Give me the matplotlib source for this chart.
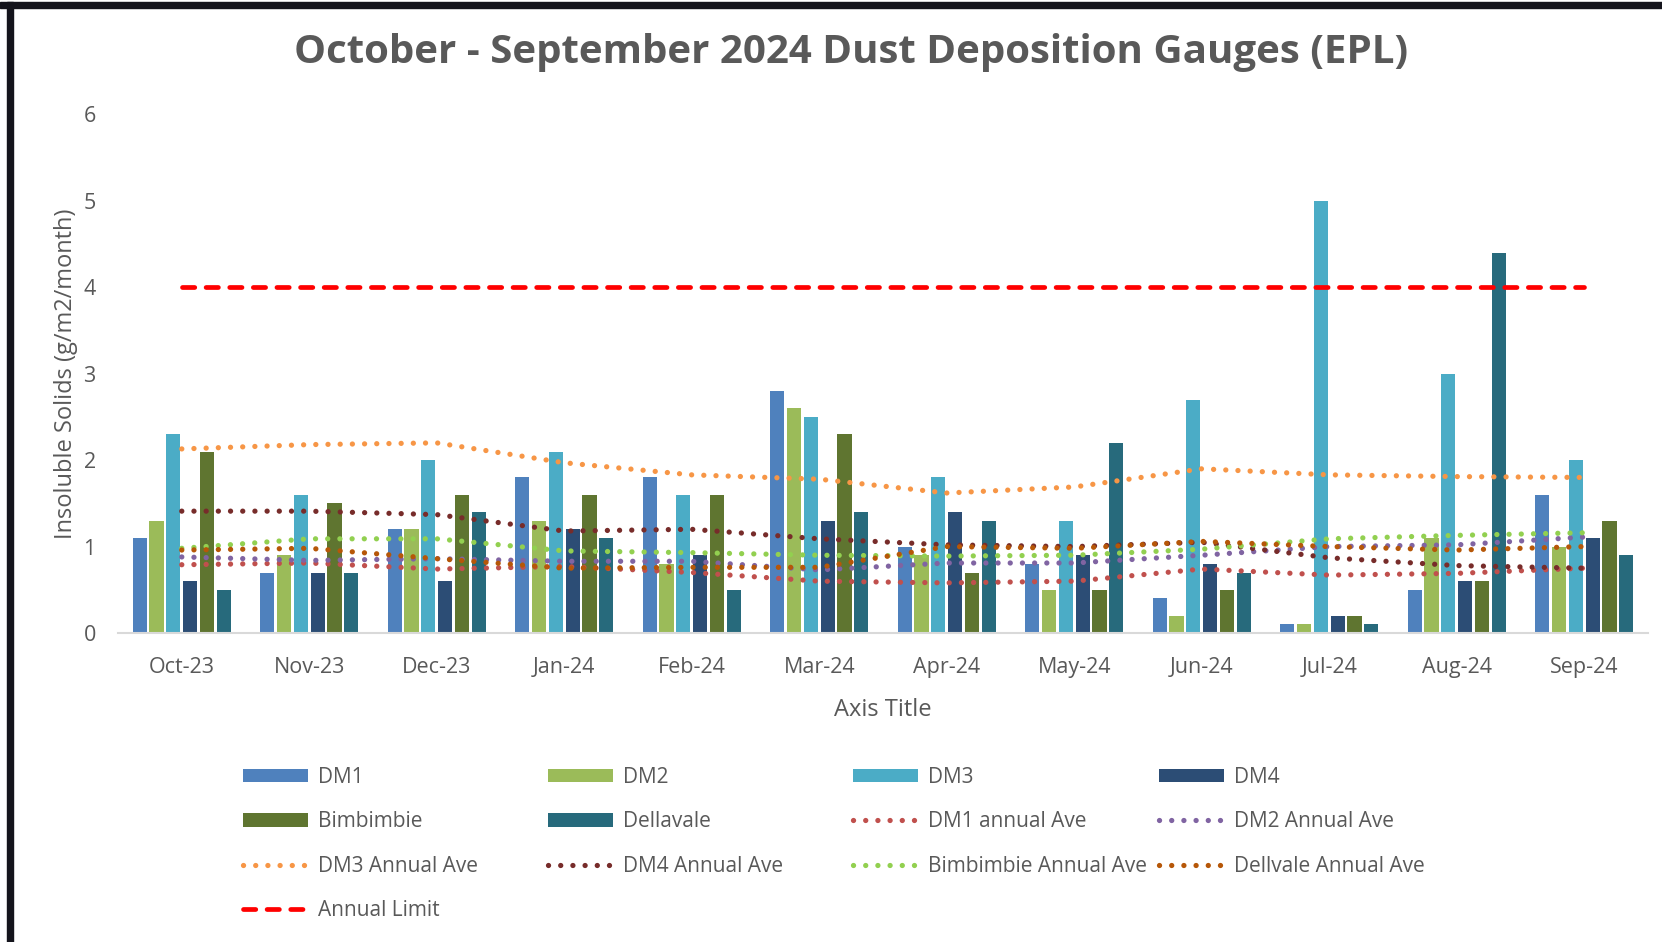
import numpy as np
import matplotlib
matplotlib.use("Agg")
import matplotlib.pyplot as plt
from matplotlib.patches import Patch, Rectangle

plt.rcParams['font.family'] = ['Open Sans', 'DejaVu Sans']

# ---------------- data ----------------
months = ['Oct-23', 'Nov-23', 'Dec-23', 'Jan-24', 'Feb-24', 'Mar-24',
          'Apr-24', 'May-24', 'Jun-24', 'Jul-24', 'Aug-24', 'Sep-24']

dm1 = [1.1, 0.7, 1.2, 1.8, 1.8, 2.8, 1.0, 0.8, 0.4, 0.1, 0.5, 1.6]
dm2 = [1.3, 0.9, 1.2, 1.3, 0.8, 2.6, 0.9, 0.5, 0.2, 0.1, 1.1, 1.0]
dm3 = [2.3, 1.6, 2.0, 2.1, 1.6, 2.5, 1.8, 1.3, 2.7, 5.0, 3.0, 2.0]
dm4 = [0.6, 0.7, 0.6, 1.2, 0.9, 1.3, 1.4, 0.9, 0.8, 0.2, 0.6, 1.1]
bimbimbie = [2.1, 1.5, 1.6, 1.6, 1.6, 2.3, 0.7, 0.5, 0.5, 0.2, 0.6, 1.3]
dellavale = [0.5, 0.7, 1.4, 1.1, 0.5, 1.4, 1.3, 2.2, 0.7, 0.1, 4.4, 0.9]

dm1_ave = [0.79, 0.81, 0.74, 0.77, 0.70, 0.60, 0.58, 0.60, 0.74, 0.67, 0.69, 0.75]
dm2_ave = [0.88, 0.84, 0.86, 0.83, 0.83, 0.73, 0.81, 0.81, 0.90, 1.00, 1.02, 1.11]
dm3_ave = [2.13, 2.18, 2.20, 1.97, 1.83, 1.78, 1.62, 1.69, 1.90, 1.83, 1.81, 1.80]
dm4_ave = [1.41, 1.41, 1.37, 1.18, 1.20, 1.09, 1.02, 1.00, 1.05, 0.87, 0.78, 0.75]
bimb_ave = [0.98, 1.09, 1.09, 0.95, 0.93, 0.90, 0.89, 0.90, 0.97, 1.09, 1.13, 1.16]
dell_ave = [0.96, 0.98, 0.86, 0.75, 0.76, 0.76, 1.00, 0.98, 1.06, 1.00, 0.96, 1.00]

annual_limit = [4] * 12

bar_series = [('DM1', dm1, '#4F81BD'), ('DM2', dm2, '#9BBB59'),
              ('DM3', dm3, '#4BACC6'), ('DM4', dm4, '#2C4D75'),
              ('Bimbimbie', bimbimbie, '#5F7530'), ('Dellavale', dellavale, '#276A7C')]
ave_series = [('DM1 annual Ave', dm1_ave, '#C0504D'), ('DM2 Annual Ave', dm2_ave, '#8064A2'),
              ('DM3 Annual Ave', dm3_ave, '#F79646'), ('DM4 Annual Ave', dm4_ave, '#772C2A'),
              ('Bimbimbie Annual Ave', bimb_ave, '#92D050'), ('Dellvale Annual Ave', dell_ave, '#B65708')]

txt = '#595959'
W, H = 1662, 942

fig = plt.figure(figsize=(W / 100, H / 100), dpi=100)
ax = fig.add_axes([118 / W, (H - 633) / H, (1648 - 118) / W, (633 - 114.5) / H])

x = np.arange(len(months))
pitch, width = 0.132, 0.11
handles = []
for i, (name, vals, col) in enumerate(bar_series):
    ax.bar(x + (i - 2.5) * pitch, vals, width, color=col, zorder=2)
    handles.append(Patch(facecolor=col, label=name))

for name, vals, col in ave_series:
    ln, = ax.plot(x, vals, color=col, lw=3.8, linestyle=(0, (0.01, 2.3)),
                  dash_capstyle='round', zorder=3, label=name)
    handles.append(ln)

lim, = ax.plot(x, annual_limit, color='#FF0000', lw=3.4, linestyle=(0, (2.6, 2.4)),
               dash_capstyle='round', zorder=4, label='Annual Limit')
handles.append(lim)

ax.set_xlim(-0.5, 11.5)
ax.set_ylim(0, 6)
ax.set_xticks(x)
ax.set_xticklabels(months)
ax.set_yticks(range(7))
for s in ['top', 'right', 'left']:
    ax.spines[s].set_visible(False)
ax.spines['bottom'].set_color('#D9D9D9')
ax.spines['bottom'].set_linewidth(1.5)
ax.tick_params(length=0, labelsize=15.5, colors=txt)
ax.tick_params(axis='x', pad=17)
ax.tick_params(axis='y', pad=16)
ax.set_xlabel('Axis Title', fontsize=17, color=txt, labelpad=15)
ax.set_ylabel('Insoluble Solids (g/m2/month)', fontsize=17, color=txt, labelpad=4)

fig.text(851 / W, 1 - 52 / H, 'October - September 2024 Dust Deposition Gauges (EPL)',
         ha='center', va='center', fontsize=29, fontweight='bold', color=txt)

# legend laid out in 4 fixed columns, filled row by row
col_x = [243, 548, 853, 1159]
for c in range(4):
    hs = handles[c::4]
    leg = fig.legend(handles=hs, loc='upper left',
                     bbox_to_anchor=(col_x[c] / W, 1 - 767 / H),
                     frameon=False, fontsize=15, handlelength=3.1, handleheight=0.6,
                     handletextpad=0.5, labelspacing=1.12, borderpad=0, borderaxespad=0)
    for t in leg.get_texts():
        t.set_color(txt)

# black frame on top and left edges
fig.add_artist(Rectangle((0, 1 - 8 / H), 1, 6 / H, transform=fig.transFigure,
                         color='#14141C', zorder=10))
fig.add_artist(Rectangle((7 / W, 0), 6 / W, 1 - 2 / H, transform=fig.transFigure,
                         color='#14141C', zorder=10))

fig.savefig('out.png', dpi=100)
